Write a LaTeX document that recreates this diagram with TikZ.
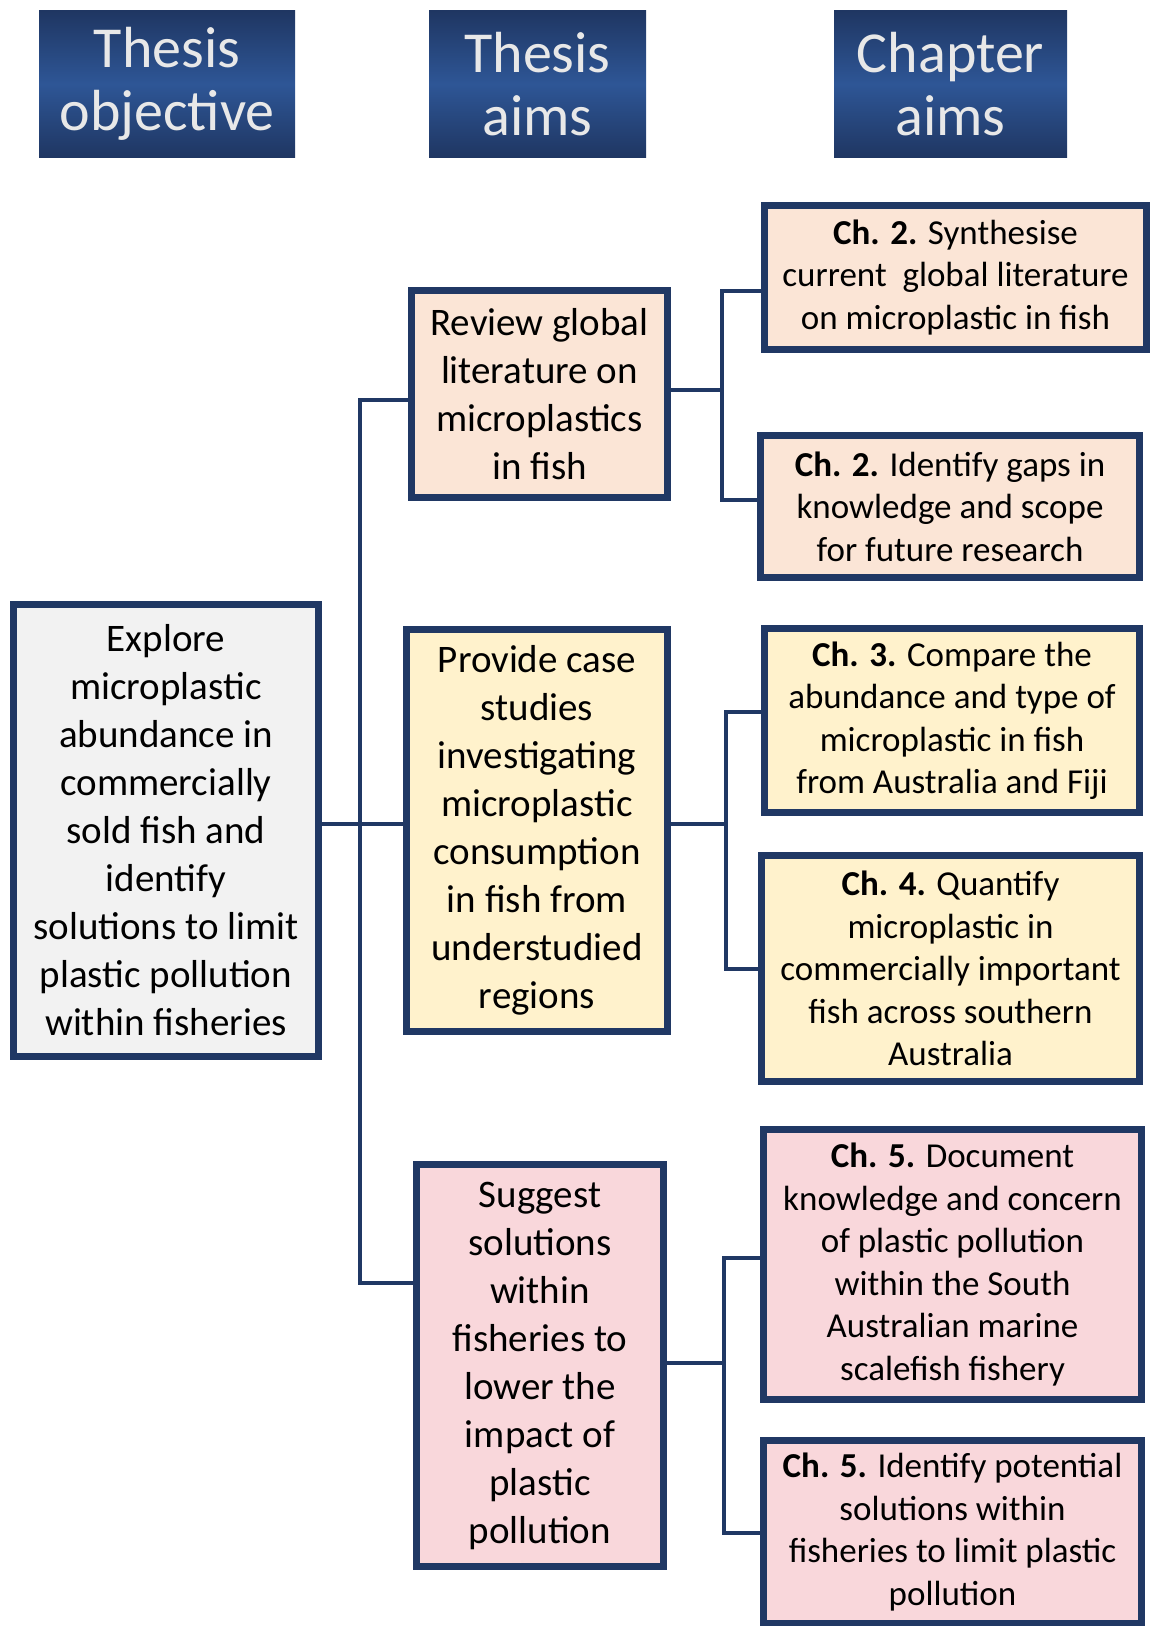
\documentclass[tikz,border=0pt]{standalone}
\usepackage{fontspec}
\setmainfont{Carlito}
\definecolor{navy}{RGB}{32,56,100}
\definecolor{hdark}{RGB}{31,54,98}
\definecolor{hmid}{RGB}{46,86,150}
\definecolor{htext}{RGB}{232,232,232}
\definecolor{fgrey}{RGB}{242,242,242}
\definecolor{fpeach}{RGB}{251,229,214}
\definecolor{fyellow}{RGB}{255,242,204}
\definecolor{fpink}{RGB}{249,215,219}
\tikzset{
  sz/.style 2 args={minimum width=#1*0.5pt, minimum height=#2*0.5pt},
  hdr/.style={inner sep=0pt, top color=hdark, bottom color=hdark, middle color=hmid,
    text=htext, align=center, font=\fontsize{29pt}{31.5pt}\selectfont},
  bigbox/.style={draw=navy, line width=3.5pt, inner sep=0pt, align=center,
    font=\fontsize{19.5pt}{24pt}\selectfont},
  chbox/.style={draw=navy, line width=3.5pt, inner sep=0pt, align=center,
    font=\fontsize{17.5pt}{21.25pt}\selectfont},
  conn/.style={draw=navy, line width=2.2pt}
}
\begin{document}
\begin{tikzpicture}[x=0.5pt,y=-0.5pt]
\useasboundingbox (0,0) rectangle (1150,1626);
% headers
\node[hdr, sz={256}{147}] (h1) at (167,84) {Thesis\\objective};
\node[hdr, sz={217}{147}] (h2) at (537.5,84) {Thesis\\aims};
\node[hdr, sz={233}{147}] (h3) at (950.5,84) {Chapter\\aims};
% objective
\node[bigbox, fill=fgrey, sz={305}{452}] (obj) at (166,830.5)
  {Explore\\microplastic\\abundance in\\commercially\\sold fish and\\identify\\solutions to limit\\plastic pollution\\within fisheries};
% thesis aims
\node[bigbox, fill=fpeach, sz={256}{207}] (review) at (539.5,394)
  {Review global\\literature on\\microplastics\\in fish};
\node[bigbox, fill=fyellow, sz={261}{402}] (provide) at (537,830.5)
  {Provide case\\studies\\investigating\\microplastic\\consumption\\in fish from\\understudied\\regions};
\node[bigbox, fill=fpink, sz={247}{402}] (suggest) at (540,1365.5)
  {Suggest\\solutions\\within\\fisheries to\\lower the\\impact of\\plastic\\pollution};
% chapter aims
\node[chbox, fill=fpeach, sz={382}{144}] (c2a) at (955.5,277.5)
  {\textbf{Ch. 2.} Synthesise\\current\ \ global literature\\on microplastic in fish};
\node[chbox, fill=fpeach, sz={379}{142}] (c2b) at (950,506.5)
  {\textbf{Ch. 2.} Identify gaps in\\knowledge and scope\\for future research};
\node[chbox, fill=fyellow, sz={375}{184}] (c3) at (952,720.5)
  {\textbf{Ch. 3.} Compare the\\abundance and type of\\microplastic in fish\\from Australia and Fiji};
\node[chbox, fill=fyellow, sz={378}{226}] (c4) at (950.5,968.5)
  {\textbf{Ch. 4.} Quantify\\microplastic in\\commercially important\\fish across southern\\Australia};
\node[chbox, fill=fpink, sz={378}{270}] (c5a) at (952.5,1264.5)
  {\textbf{Ch. 5.} Document\\knowledge and concern\\of plastic pollution\\within the South\\Australian marine\\scalefish fishery};
\node[chbox, fill=fpink, sz={378}{183}] (c5b) at (952.5,1532)
  {\textbf{Ch. 5.} Identify potential\\solutions within\\fisheries to limit plastic\\pollution};
% connector coordinates
\coordinate (b1) at (340,824);
\coordinate (ta) at (360,400);
\coordinate (tb) at (360,1283);
\coordinate (b2) at (722,390);
\coordinate (b2t) at (722,291);
\coordinate (b2b) at (722,500);
\coordinate (b3) at (726,824);
\coordinate (b3t) at (726,712);
\coordinate (b3b) at (726,969);
\coordinate (b5) at (724,1363);
\coordinate (b5t) at (724,1258);
\coordinate (b5b) at (724,1533);
% connectors
\draw[conn] (obj.east |- b1) -- (provide.west |- b1);
\draw[conn] (review.west |- ta) -- (ta) -- (tb) -- (suggest.west |- tb);
\draw[conn] (review.east |- b2) -- (b2);
\draw[conn] (c2a.west |- b2t) -- (b2t) -- (b2b) -- (c2b.west |- b2b);
\draw[conn] (provide.east |- b3) -- (b3);
\draw[conn] (c3.west |- b3t) -- (b3t) -- (b3b) -- (c4.west |- b3b);
\draw[conn] (suggest.east |- b5) -- (b5);
\draw[conn] (c5a.west |- b5t) -- (b5t) -- (b5b) -- (c5b.west |- b5b);
\end{tikzpicture}
\end{document}
